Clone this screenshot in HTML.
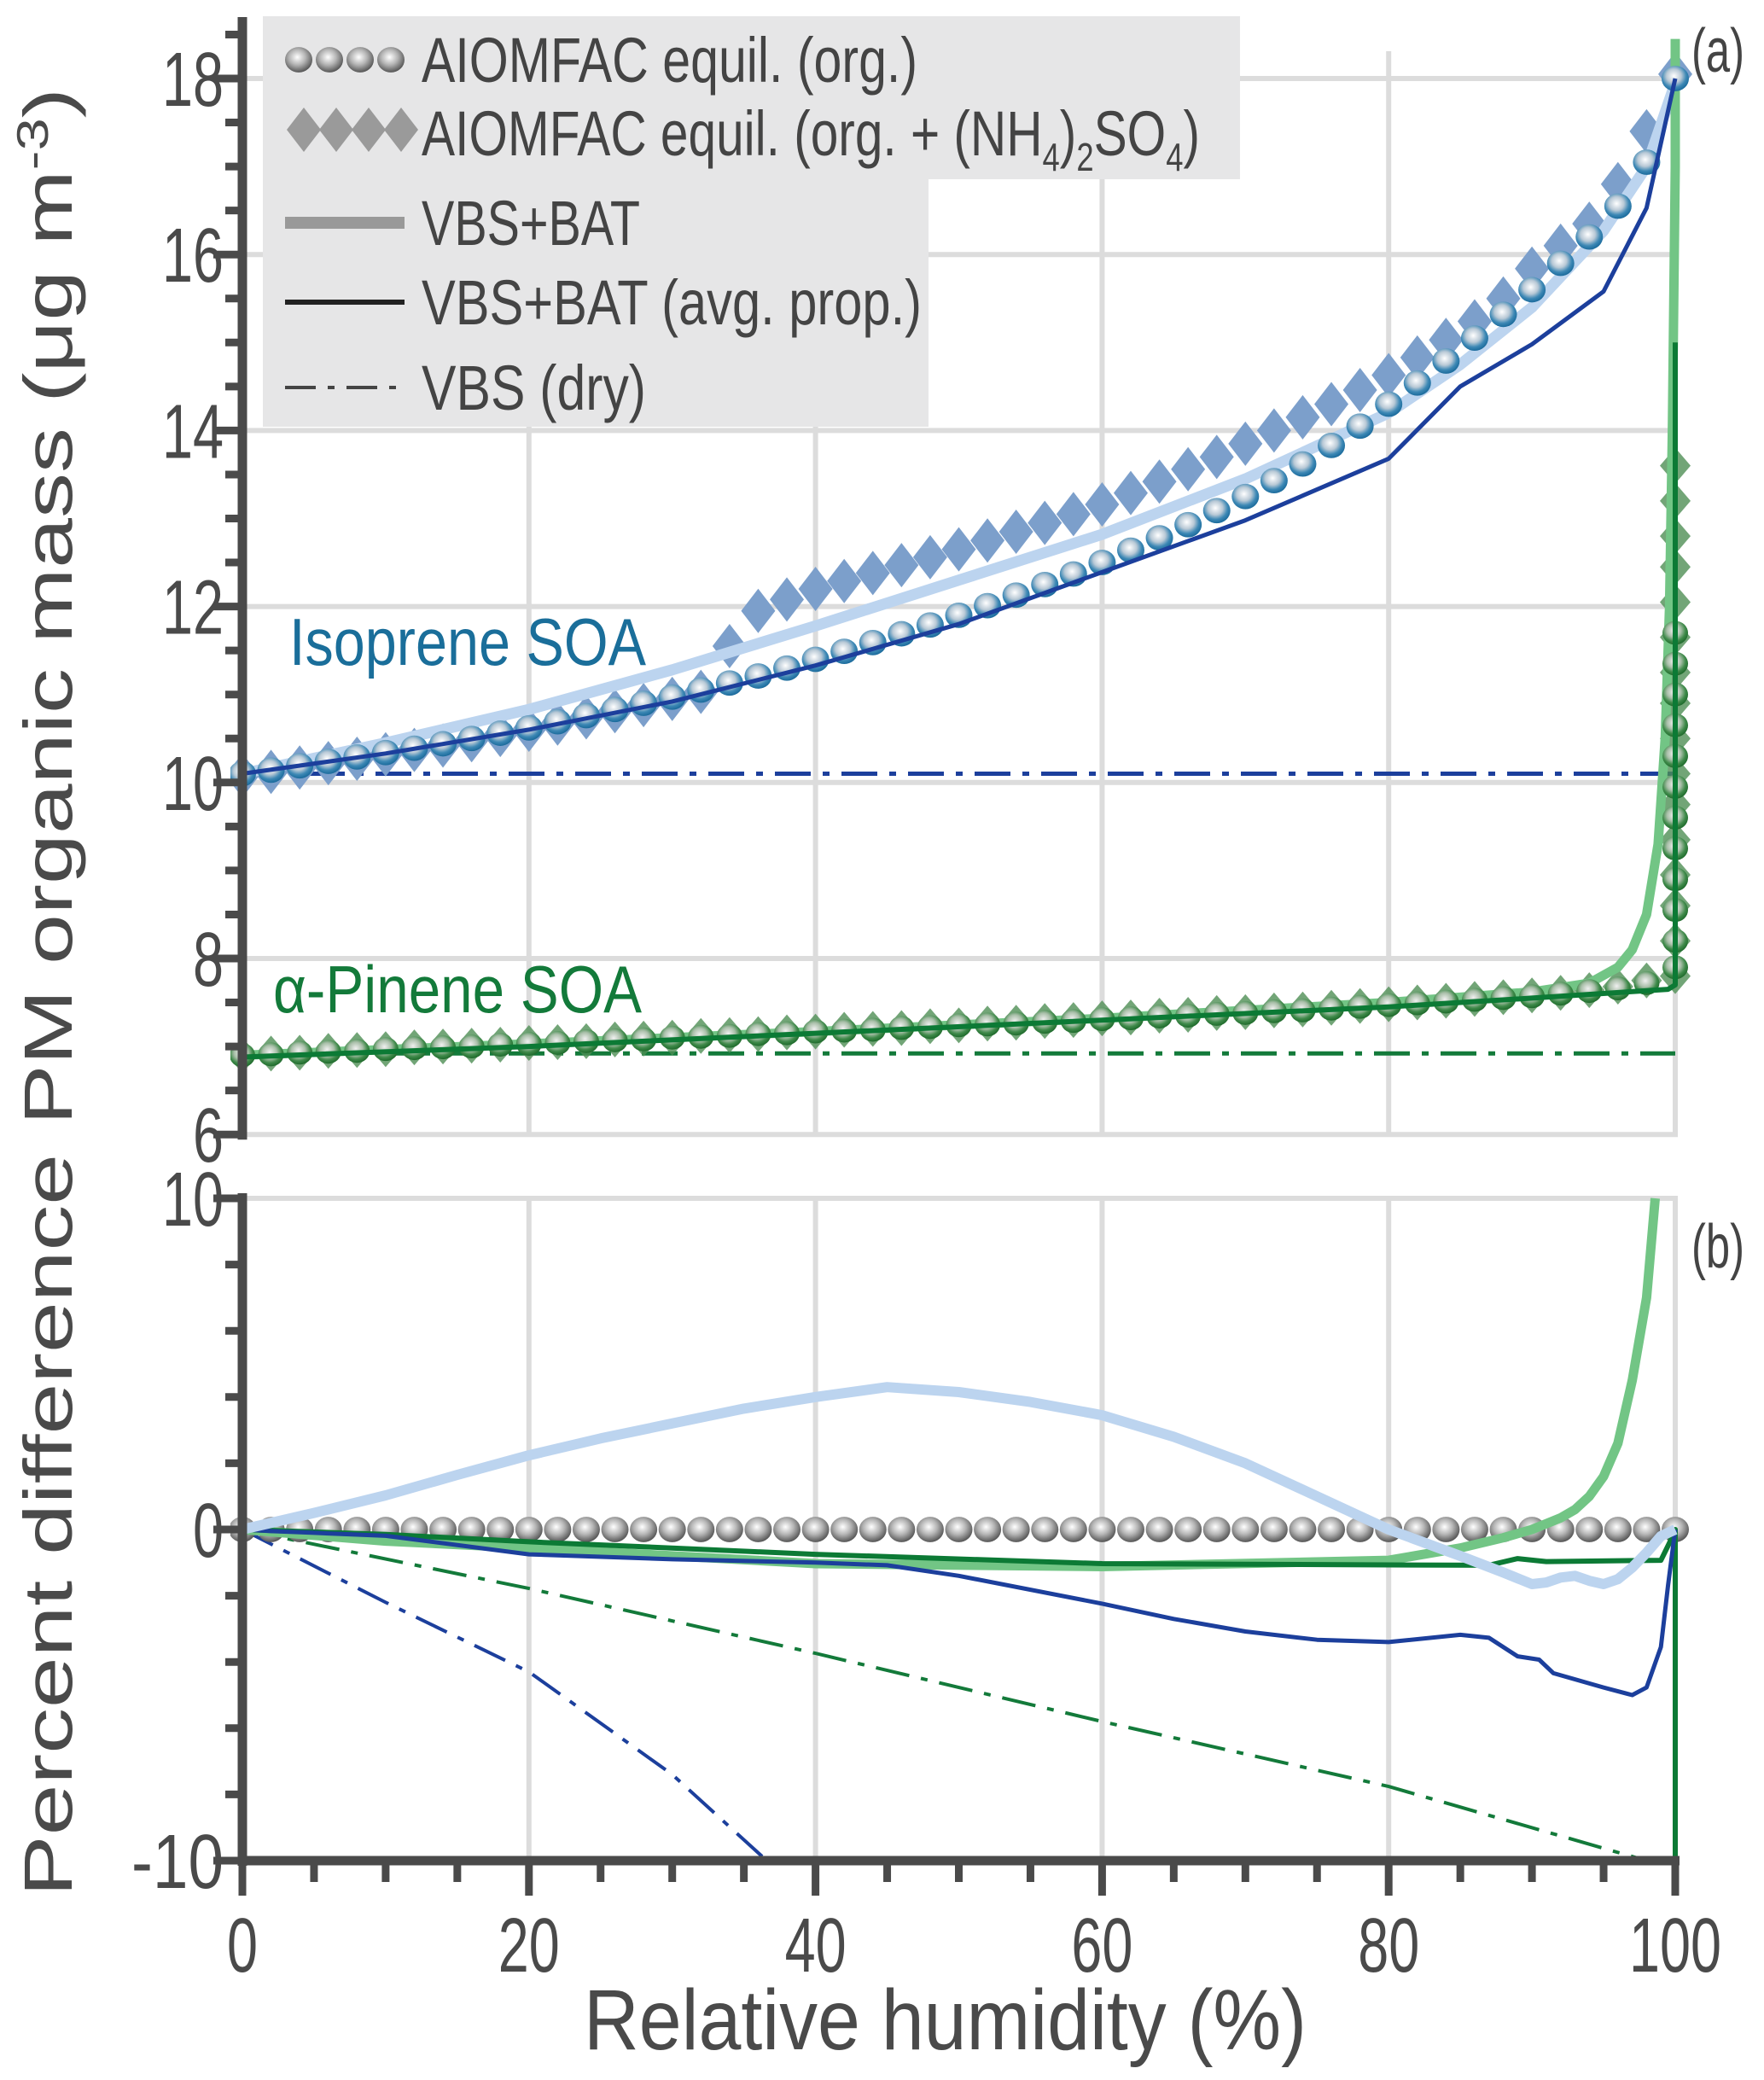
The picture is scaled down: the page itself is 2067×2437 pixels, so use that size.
<!DOCTYPE html>
<html><head><meta charset="utf-8"><style>
html,body{margin:0;padding:0;background:#fff;}
svg{display:block;}
text{font-family:"Liberation Sans Narrow","Liberation Sans",sans-serif;}
</style></head><body>
<svg id="chart" width="2067" height="2437" viewBox="0 0 2067 2437" xmlns="http://www.w3.org/2000/svg">
<defs>
<radialGradient id="gGray" cx="45%" cy="40%" r="60%"><stop offset="0" stop-color="#ffffff"/><stop offset="0.5" stop-color="#b5b5b5"/><stop offset="1" stop-color="#555"/></radialGradient>
<radialGradient id="gBlue" cx="45%" cy="40%" r="60%"><stop offset="0" stop-color="#ffffff"/><stop offset="0.45" stop-color="#b9c9d6"/><stop offset="0.75" stop-color="#3d88b5"/><stop offset="1" stop-color="#1b6b9c"/></radialGradient>
<radialGradient id="gGreen" cx="45%" cy="40%" r="60%"><stop offset="0" stop-color="#f0f0f0"/><stop offset="0.45" stop-color="#a9bfa9"/><stop offset="0.75" stop-color="#3f8a4a"/><stop offset="1" stop-color="#1f6b2c"/></radialGradient>
<clipPath id="clipB"><rect x="270" y="1400" width="1720" height="782"/></clipPath>
<clipPath id="clipA"><rect x="270" y="20" width="1720" height="1315"/></clipPath>
</defs>
<g id="grid"></g>
<g id="legendBg">
<path d="M308 19 H1453 V210 H1088 V500 H308 Z" fill="#e6e6e7"/>
</g>
<g id="plotA" clip-path="url(#clipA)"></g>
<g id="plotB" clip-path="url(#clipB)"></g>
<g id="axes"></g>
<g id="legend"></g>
<text x="339" y="779" font-size="78" fill="#1a6e9a" textLength="418" lengthAdjust="spacingAndGlyphs">Isoprene SOA</text>
<text x="320" y="1186" font-size="78" fill="#137a3a" textLength="432" lengthAdjust="spacingAndGlyphs">α-Pinene SOA</text>
<text x="1982" y="84" font-size="72" fill="#444" textLength="62" lengthAdjust="spacingAndGlyphs">(a)</text>
<text x="1982" y="1485" font-size="72" fill="#444" textLength="62" lengthAdjust="spacingAndGlyphs">(b)</text>
<text x="684" y="2401" font-size="100" fill="#4a4a4a" textLength="847" lengthAdjust="spacingAndGlyphs">Relative humidity (%)</text>
<text transform="translate(84,1318) rotate(-90)" font-size="80" fill="#4a4a4a" style="font-family:'Liberation Sans',sans-serif" textLength="1215" lengthAdjust="spacingAndGlyphs">PM organic mass (μg m<tspan font-size="52" dy="-28">-3</tspan><tspan dy="28">)</tspan></text>
<text transform="translate(84,2222) rotate(-90)" font-size="80" fill="#4a4a4a" style="font-family:'Liberation Sans',sans-serif" textLength="870" lengthAdjust="spacingAndGlyphs">Percent difference</text>
</svg>
<script>
// ---- data ----
const rhSteps = [0,2,4,6,8,10,12,14,16,18,20,22,24,26,28,30,32,34,36,38,40,42,44,46,48,50,52,54,56,58,60,62,64,66,68,70,72,74,76,78,80,82,84,86,88,90,92,94,96,98,100];
const isoOrg = [10.10,10.14,10.19,10.24,10.29,10.34,10.39,10.44,10.50,10.56,10.62,10.69,10.76,10.83,10.90,10.97,11.05,11.13,11.21,11.30,11.40,11.49,11.59,11.69,11.79,11.90,12.01,12.13,12.25,12.37,12.50,12.64,12.78,12.93,13.09,13.25,13.43,13.62,13.83,14.05,14.30,14.54,14.79,15.05,15.32,15.60,15.90,16.20,16.55,17.05,18.00];
const isoAS = [10.08,10.12,10.17,10.22,10.27,10.32,10.37,10.42,10.48,10.54,10.60,10.67,10.74,10.81,10.88,10.95,11.03,11.55,11.95,12.08,12.20,12.29,12.38,12.47,12.56,12.65,12.75,12.85,12.95,13.05,13.16,13.29,13.42,13.56,13.70,13.85,14.00,14.15,14.30,14.46,14.63,14.83,15.03,15.24,15.50,15.84,16.10,16.35,16.80,17.40,18.05];
const pinOrg = [6.90,6.91,6.93,6.94,6.95,6.97,6.98,6.99,7.00,7.02,7.03,7.04,7.06,7.07,7.08,7.10,7.11,7.12,7.14,7.15,7.17,7.18,7.19,7.21,7.22,7.24,7.25,7.26,7.28,7.29,7.31,7.32,7.34,7.35,7.37,7.38,7.40,7.41,7.43,7.45,7.47,7.49,7.51,7.53,7.55,7.57,7.60,7.63,7.66,7.72,7.90];
const pinAS = [6.90,6.92,6.93,6.95,6.96,6.97,6.99,7.00,7.01,7.02,7.04,7.05,7.06,7.08,7.09,7.10,7.12,7.13,7.14,7.16,7.17,7.19,7.20,7.21,7.23,7.24,7.26,7.27,7.29,7.30,7.32,7.33,7.35,7.36,7.38,7.39,7.41,7.42,7.44,7.46,7.48,7.50,7.52,7.54,7.56,7.58,7.61,7.64,7.68,7.75,7.80];
const pinStackOrg = [8.2,8.55,8.9,9.25,9.6,9.95,10.3,10.65,11.0,11.35,11.7];
const pinStackAS = [8.2,8.6,8.95,9.35,9.75,10.1,10.5,10.9,11.25,11.65,12.05,12.45,12.8,13.2,13.6];
const isoLineX = [0,10,20,30,40,50,60,70,80,85,90,95,98,100];
const isoBAT = [10.1,10.45,10.83,11.28,11.78,12.3,12.82,13.45,14.2,14.75,15.4,16.27,17.0,17.95];
const isoAvg = [10.1,10.33,10.6,10.92,11.33,11.8,12.39,12.98,13.68,14.5,14.98,15.58,16.53,18.0];
const pinBATX = [0,20,40,60,80,90,94,96,97,98,98.8,99.3,99.6,99.8,100,100];
const pinBAT = [6.9,7.03,7.17,7.32,7.5,7.62,7.72,7.9,8.1,8.5,9.3,10.5,12,14,17,18.45];
const pinAvgX = [0,20,40,60,80,90,99.5,100,100];
const pinAvg = [6.88,7.0,7.15,7.3,7.45,7.55,7.65,7.7,15.0];
const dryX = [0,100];
const isoDry = [10.1,10.1];
const pinDry = [6.92,6.92];
// panel b
const diffZero = [0,0,0,0,0,0,0,0,0,0,0,0,0,0,0,0,0,0,0,0,0,0,0,0,0,0,0,0,0,0,0,0,0,0,0,0,0,0,0,0,0,0,0,0,0,0,0,0,0,0,0];
const isoBATdX = [0,5,10,15,20,25,30,35,40,45,50,55,60,65,70,75,80,85,88,90,91,92,93,94,95,96,97,98,99,100];
const isoBATd = [0,0.5,1.03,1.65,2.24,2.75,3.2,3.65,4.0,4.3,4.15,3.85,3.45,2.8,2.0,1.0,0.0,-0.8,-1.3,-1.65,-1.6,-1.45,-1.4,-1.55,-1.65,-1.5,-1.15,-0.7,-0.2,0];
const pinBATdX = [0,10,20,40,60,80,85,88,90,92,93,94,95,96,97,98,98.6];
const pinBATd = [0,-0.35,-0.56,-1.03,-1.12,-0.93,-0.56,-0.25,0,0.35,0.6,1.0,1.6,2.6,4.5,7.0,10];
const pinAvgdX = [0,10,20,40,60,80,87,89,91,99,99.6,100,100];
const pinAvgd = [0,-0.15,-0.37,-0.75,-1.03,-1.07,-1.08,-0.88,-0.97,-0.93,-0.4,0,-10];
const isoAvgdX = [0,2,5,10,20,30,40,45,50,60,65,70,75,80,85,87,89,90.5,91.5,95,97,98,99,99.5,100];
const isoAvgd = [0,-0.05,-0.1,-0.19,-0.75,-0.9,-1.0,-1.08,-1.4,-2.24,-2.7,-3.08,-3.33,-3.4,-3.18,-3.27,-3.83,-3.93,-4.34,-4.77,-5.0,-4.77,-3.55,-1.68,0];
const isoDrydX = [0,10,20,30,36.6];
const isoDryd = [0,-2.2,-4.3,-7.4,-10];
const pinDrydX = [0,20,40,60,80,98];
const pinDryd = [0,-1.78,-3.74,-5.8,-7.76,-10];
const yTicksA = [6,8,10,12,14,16,18];
const yTicksB = [-10,0,10];
const xTicks = [0,20,40,60,80,100];

// ---- scales ----
const X = v => 284 + v * 16.79;
const YA = v => 92 + (18 - v) * 103.1;
const YB = v => 1792 - v * 38.8;
const NS = 'http://www.w3.org/2000/svg';
function mk(tag, parent, attrs) { const e = document.createElementNS(NS, tag); for (const k in attrs) e.setAttribute(k, attrs[k]); parent.appendChild(e); return e; }
function pathD(xs, ys, Y) { return xs.map((x,i)=>(i?'L':'M')+X(x).toFixed(1)+' '+Y(ys[i]).toFixed(1)).join(' '); }
function line(parent, xs, ys, Y, color, w, dash, name) {
  const p = mk('path', parent, {d: pathD(xs, ys, Y), fill:'none', stroke:color, 'stroke-width':w, 'stroke-linejoin':'round', 'stroke-linecap':'butt'});
  if (dash) p.setAttribute('stroke-dasharray', dash);
  
  
  return p;
}
function diamond(parent, cx, cy, w, h, fill, op, name) {
  const p = mk('path', parent, {d:`M${cx} ${cy-h/2} L${cx+w/2} ${cy} L${cx} ${cy+h/2} L${cx-w/2} ${cy} Z`, fill:fill, 'fill-opacity':op});
  
  
}
function ball(parent, cx, cy, r, grad, name) {
  const c = mk('ellipse', parent, {cx:cx, cy:cy, rx:r, ry:r*0.93, fill:`url(#${grad})`});
  
  
}
function label(parent, x, y, txt, anchor, name) {
  const t = mk('text', parent, {x:x, y:y, 'font-size':90, fill:'#4a4a4a', 'text-anchor':anchor, textLength:String(txt).length*36, lengthAdjust:'spacingAndGlyphs'});
  t.textContent = txt;
  
  
}

// ---- grid ----
const grid = document.getElementById('grid');
[20,40,60,80,100].forEach(v => {
  const a = mk('line', grid, {x1:X(v), x2:X(v), y1:60, y2:YA(6), stroke:'#dcdcdc', 'stroke-width':6});
  
  
  const b = mk('line', grid, {x1:X(v), x2:X(v), y1:YB(10), y2:YB(-10), stroke:'#dcdcdc', 'stroke-width':6});
  
  
});
yTicksA.forEach(v => {
  const g = mk('line', grid, {x1:284, x2:X(100)+3, y1:YA(v), y2:YA(v), stroke:'#dcdcdc', 'stroke-width':6});
  
  
});
const gt = mk('line', grid, {x1:284, x2:X(100)+3, y1:YB(10), y2:YB(10), stroke:'#dcdcdc', 'stroke-width':6});



// ---- panel a ----
const A = document.getElementById('plotA');
line(A, dryX, isoDry, YA, '#1c3f9c', 5, '42 14 8 14', 'isoprene-vbs-dry');
line(A, dryX, pinDry, YA, '#137a3a', 5, '42 14 8 14', 'pinene-vbs-dry');
rhSteps.forEach((x,i) => diamond(A, X(x), YA(isoAS[i]), 40, 52, '#7c9fcb', 1, 'isoprene-aiomfac-as-point'));
rhSteps.forEach((x,i) => diamond(A, X(x), YA(pinAS[i]), 36, 42, '#4f8f55', 0.8, 'pinene-aiomfac-as-point'));
pinStackAS.forEach(v => diamond(A, X(100), YA(v), 36, 42, '#4f8f55', 0.8, 'pinene-aiomfac-as-point'));
line(A, isoLineX, isoBAT, YA, '#bcd4ef', 13, null, 'isoprene-vbs-bat');
line(A, pinBATX, pinBAT, YA, '#72c585', 11, null, 'pinene-vbs-bat');
rhSteps.forEach((x,i) => ball(A, X(x), YA(isoOrg[i]), 16, 'gBlue', 'isoprene-aiomfac-org-point'));
rhSteps.forEach((x,i) => ball(A, X(x), YA(pinOrg[i]), 15, 'gGreen', 'pinene-aiomfac-org-point'));
pinStackOrg.forEach(v => ball(A, X(100), YA(v), 15, 'gGreen', 'pinene-aiomfac-org-point'));
line(A, isoLineX, isoAvg, YA, '#1c3f9c', 5, null, 'isoprene-vbs-bat-avg');
line(A, pinAvgX, pinAvg, YA, '#0c7a35', 6, null, 'pinene-vbs-bat-avg');

// ---- panel b ----
const B = document.getElementById('plotB');
line(B, isoDrydX, isoDryd, YB, '#1c3f9c', 4, '40 14 8 14', 'isoprene-dry-diff');
line(B, pinDrydX, pinDryd, YB, '#137a3a', 4, '40 14 8 14', 'pinene-dry-diff');
rhSteps.forEach((x,i) => ball(B, X(x), YB(diffZero[i]), 16, 'gGray', 'aiomfac-reference-point'));
line(B, pinBATdX, pinBATd, YB, '#72c585', 11, null, 'pinene-bat-diff');
line(B, pinAvgdX, pinAvgd, YB, '#0c7a35', 6, null, 'pinene-avg-diff');
line(B, isoAvgdX, isoAvgd, YB, '#1c3f9c', 5, null, 'isoprene-avg-diff');
line(B, isoBATdX, isoBATd, YB, '#bcd4ef', 12, null, 'isoprene-bat-diff');

// ---- axes ----
const ax = document.getElementById('axes');
const AX = '#4a4a4a';
const la = mk('line', ax, {x1:284, x2:284, y1:20, y2:YA(6)+6, stroke:AX, 'stroke-width':11});


const lb = mk('line', ax, {x1:284, x2:284, y1:YB(10)-6, y2:YB(-10)+6, stroke:AX, 'stroke-width':11});


const bx = mk('line', ax, {x1:279, x2:X(100)+5, y1:YB(-10), y2:YB(-10), stroke:AX, 'stroke-width':11});


for (let v = 6; v <= 18.5; v += 0.5) {
  const major = yTicksA.includes(v);
  const t = mk('line', ax, {x1:major?250:264, x2:284, y1:YA(v), y2:YA(v), stroke:AX, 'stroke-width':9});
  
  
}
for (let v = -10; v <= 10; v += 2) {
  const major = yTicksB.includes(v);
  const t = mk('line', ax, {x1:major?250:264, x2:284, y1:YB(v), y2:YB(v), stroke:AX, 'stroke-width':9});
  
  
}
for (let v = 0; v <= 100; v += 5) {
  const major = xTicks.includes(v);
  const t = mk('line', ax, {x1:X(v), x2:X(v), y1:YB(-10), y2:YB(-10)+(major?41:25), stroke:AX, 'stroke-width':9});
  
  
}
yTicksA.forEach(v => label(ax, 262, YA(v)+32, v, 'end', 'y-tick-label-a'));
yTicksB.forEach(v => label(ax, 262, YB(v)+32, v, 'end', 'y-tick-label-b'));
xTicks.forEach(v => label(ax, X(v), 2310, v, 'middle', 'x-tick-label'));

// ---- legend ----
const lg = document.getElementById('legend');
[0,1,2,3].forEach(i => ball(lg, 350 + i*36, 70, 16, 'gGray', 'legend-symbol-circle'));
[0,1,2,3].forEach(i => diamond(lg, 356 + i*38, 152, 40, 52, '#9a9a9a', 1, 'legend-symbol-diamond'));
const l3 = mk('line', lg, {x1:334, x2:474, y1:261, y2:261, stroke:'#999', 'stroke-width':14});


const l4 = mk('line', lg, {x1:334, x2:474, y1:354, y2:354, stroke:'#222', 'stroke-width':6});


const l5 = mk('line', lg, {x1:334, x2:474, y1:454, y2:454, stroke:'#444', 'stroke-width':4, 'stroke-dasharray':'36 14 8 14'});


const legItems = [
  {y:96, w:581, t:'AIOMFAC equil. (org.)'},
  {y:182, w:912, t:null},
  {y:287, w:256, t:'VBS+BAT'},
  {y:380, w:586, t:'VBS+BAT (avg. prop.)'},
  {y:480, w:263, t:'VBS (dry)'}
];
legItems.forEach(it => {
  const t = mk('text', lg, {x:494, y:it.y, 'font-size':74, fill:'#444'});
  if (it.t) { t.textContent = it.t; }
  else { t.innerHTML = 'AIOMFAC equil. (org. + (NH<tspan font-size="46" dy="18">4</tspan><tspan dy="-18">)</tspan><tspan font-size="46" dy="18">2</tspan><tspan dy="-18">SO</tspan><tspan font-size="46" dy="18">4</tspan><tspan dy="-18">)</tspan>'; }
  t.setAttribute('textLength', it.w);
  t.setAttribute('lengthAdjust','spacingAndGlyphs');
  
  
});
</script>
</body></html>
